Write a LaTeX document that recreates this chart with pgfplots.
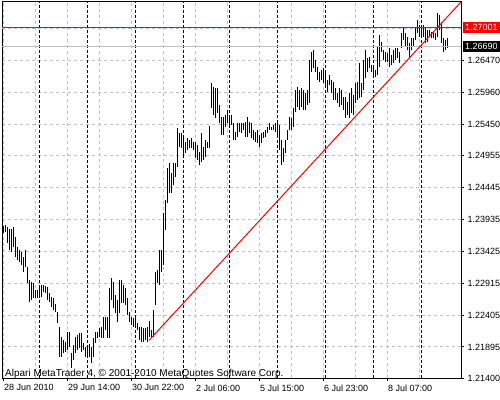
\documentclass[border=0pt]{standalone}
\usepackage{fontspec}
\setmainfont{Liberation Sans}
\usepackage{pgfplots}
\usepackage{pgfplotstable}
\pgfplotsset{compat=1.18}

\definecolor{mtgrid}{RGB}{192,192,192}

% EURUSD H1 bars: bar index, high, low
\pgfplotstableread{
i h l
0 1.2383 1.2372
1 1.2384 1.2373
2 1.2381 1.2356
3 1.2378 1.2345
4 1.2378 1.2341
5 1.2381 1.2349
6 1.2365 1.2333
7 1.2349 1.2329
8 1.2345 1.2325
9 1.2341 1.2321
10 1.2333 1.2309
11 1.2345 1.2317
12 1.2317 1.2292
13 1.2297 1.2262
14 1.2293 1.2265
15 1.2292 1.2268
16 1.2281 1.2268
17 1.2281 1.2268
18 1.2286 1.2268
19 1.2289 1.2270
20 1.2289 1.2278
21 1.2287 1.2276
22 1.2286 1.2265
23 1.2276 1.2262
24 1.2270 1.2254
25 1.2268 1.2249
26 1.2258 1.2246
27 1.2246 1.2228
28 1.2222 1.2174
29 1.2206 1.2174
30 1.2201 1.2180
31 1.2198 1.2182
32 1.2214 1.2185
33 1.2214 1.2190
34 1.2180 1.2156
35 1.2193 1.2169
36 1.2206 1.2180
37 1.2209 1.2185
38 1.2212 1.2188
39 1.2212 1.2182
40 1.2196 1.2185
41 1.2190 1.2174
42 1.2188 1.2172
43 1.2195 1.2174
44 1.2190 1.2164
45 1.2204 1.2174
46 1.2214 1.2196
47 1.2214 1.2204
48 1.2220 1.2206
49 1.2222 1.2204
50 1.2238 1.2204
51 1.2238 1.2217
52 1.2238 1.2204
53 1.2284 1.2204
54 1.2300 1.2265
55 1.2293 1.2252
56 1.2273 1.2244
57 1.2265 1.2230
58 1.2297 1.2244
59 1.2297 1.2260
60 1.2289 1.2260
61 1.2284 1.2257
62 1.2268 1.2241
63 1.2246 1.2230
64 1.2238 1.2225
65 1.2236 1.2222
66 1.2236 1.2220
67 1.2228 1.2217
68 1.2222 1.2201
69 1.2222 1.2198
70 1.2220 1.2198
71 1.2220 1.2200
72 1.2222 1.2198
73 1.2231 1.2206
74 1.2217 1.2206
75 1.2249 1.2206
76 1.2309 1.2257
77 1.2313 1.2292
78 1.2345 1.2289
79 1.2345 1.2309
80 1.2403 1.2321
81 1.2424 1.2376
82 1.2475 1.2419
83 1.2483 1.2435
84 1.2467 1.2435
85 1.2483 1.2448
86 1.2483 1.2461
87 1.2539 1.2477
88 1.2531 1.2509
89 1.2531 1.2507
90 1.2528 1.2496
91 1.2517 1.2499
92 1.2523 1.2504
93 1.2520 1.2507
94 1.2523 1.2507
95 1.2517 1.2504
96 1.2517 1.2491
97 1.2512 1.2488
98 1.2501 1.2480
99 1.2531 1.2485
100 1.2509 1.2488
101 1.2520 1.2493
102 1.2517 1.2507
103 1.2542 1.2507
104 1.2611 1.2571
105 1.2604 1.2560
106 1.2603 1.2555
107 1.2603 1.2563
108 1.2576 1.2547
109 1.2557 1.2528
110 1.2557 1.2528
111 1.2560 1.2541
112 1.2568 1.2547
113 1.2560 1.2541
114 1.2560 1.2544
115 1.2547 1.2520
116 1.2533 1.2520
117 1.2547 1.2525
118 1.2547 1.2533
119 1.2547 1.2531
120 1.2547 1.2536
121 1.2549 1.2525
122 1.2557 1.2525
123 1.2549 1.2531
124 1.2547 1.2523
125 1.2536 1.2520
126 1.2533 1.2517
127 1.2536 1.2515
128 1.2528 1.2509
129 1.2531 1.2515
130 1.2533 1.2523
131 1.2536 1.2525
132 1.2541 1.2531
133 1.2547 1.2536
134 1.2541 1.2536
135 1.2544 1.2536
136 1.2547 1.2533
137 1.2549 1.2525
138 1.2544 1.2504
139 1.2520 1.2480
140 1.2507 1.2485
141 1.2520 1.2499
142 1.2536 1.2520
143 1.2557 1.2536
144 1.2555 1.2536
145 1.2571 1.2541
146 1.2600 1.2564
147 1.2604 1.2572
148 1.2600 1.2568
149 1.2603 1.2572
150 1.2600 1.2568
151 1.2595 1.2568
152 1.2600 1.2576
153 1.2647 1.2579
154 1.2660 1.2628
155 1.2663 1.2635
156 1.2647 1.2628
157 1.2636 1.2615
158 1.2628 1.2612
159 1.2631 1.2615
160 1.2635 1.2611
161 1.2628 1.2604
162 1.2615 1.2596
163 1.2623 1.2607
164 1.2615 1.2595
165 1.2612 1.2584
166 1.2603 1.2584
167 1.2595 1.2579
168 1.2603 1.2572
169 1.2600 1.2576
170 1.2588 1.2568
171 1.2588 1.2555
172 1.2580 1.2560
173 1.2595 1.2555
174 1.2603 1.2563
175 1.2592 1.2560
176 1.2611 1.2579
177 1.2612 1.2584
178 1.2643 1.2587
179 1.2611 1.2588
180 1.2647 1.2600
181 1.2663 1.2619
182 1.2651 1.2628
183 1.2652 1.2635
184 1.2639 1.2628
185 1.2639 1.2620
186 1.2631 1.2620
187 1.2668 1.2623
188 1.2687 1.2636
189 1.2676 1.2660
190 1.2663 1.2647
191 1.2660 1.2644
192 1.2659 1.2644
193 1.2666 1.2636
194 1.2655 1.2639
195 1.2663 1.2643
196 1.2666 1.2647
197 1.2666 1.2651
198 1.2660 1.2643
199 1.2690 1.2666
200 1.2700 1.2679
201 1.2690 1.2668
202 1.2684 1.2663
203 1.2674 1.2652
204 1.2682 1.2663
205 1.2682 1.2668
206 1.2698 1.2679
207 1.2711 1.2690
208 1.2703 1.2684
209 1.2703 1.2684
210 1.2703 1.2684
211 1.2700 1.2674
212 1.2695 1.2676
213 1.2695 1.2684
214 1.2692 1.2682
215 1.2692 1.2682
216 1.2690 1.2679
217 1.2722 1.2684
218 1.2719 1.2695
219 1.2708 1.2674
220 1.2682 1.2660
221 1.2679 1.2663
222 1.2682 1.2666
}\bars

\begin{document}
\begin{tikzpicture}[font=\fontsize{9bp}{11bp}\selectfont]
\useasboundingbox (-2bp,-22bp) rectangle (498bp,378bp);
\begin{axis}[
  at={(0,0)}, anchor=south west,
  scale only axis,
  width=459bp, height=376bp,
  xmin=-0.5, xmax=229,
  ymin=1.2140, ymax=1.2740,
  axis line style={black, line width=1bp},
  xtick={0,32,...,192},
  xticklabels={28 Jun 2010,29 Jun 14:00,30 Jun 22:00,2 Jul 06:00,5 Jul 15:00,6 Jul 23:00,8 Jul 07:00},
  extra x ticks={16,48,...,224},
  extra x tick labels={},
  extra x tick style={major tick length=0pt, xmajorgrids=true},
  ytick={1.21400,1.21895,1.22405,1.22915,1.23425,1.23935,1.24445,1.24955,1.25450,1.25960,1.26470},
  yticklabels={1.21400,1.21895,1.22405,1.22915,1.23425,1.23935,1.24445,1.24955,1.25450,1.25960,1.26470},
  extra y ticks={1.26980},
  extra y tick labels={},
  extra y tick style={major tick length=0pt, ymajorgrids=true},
  xtick pos=bottom, ytick pos=right,
  yticklabel pos=right,
  tick align=outside,
  major tick length=3bp,
  tick style={black, line width=1bp},
  xmajorgrids, ymajorgrids,
  major grid style={mtgrid, line width=1bp, dash pattern=on 3bp off 3bp},
  xticklabel style={anchor=north west, inner xsep=1bp},
  yticklabel style={anchor=west},
  /pgf/number format/assume math mode=true,
  clip mode=individual,
]

% day separators
\pgfplotsinvokeforeach{18,42,66,90,113,137,161,185,209}{
  \draw[black, line width=1bp, dash pattern=on 3bp off 2bp]
    (axis cs:#1,1.2140) -- (axis cs:#1,1.2740);
}

% high-low bars
\addplot[draw=none, mark=none, forget plot,
  error bars/.cd, y dir=plus, y explicit, error mark=none,
  error bar style={draw=black, line width=1bp, solid}]
  table[x=i, y=l, y error expr=\thisrow{h}-\thisrow{l}] {\bars};

% bid line
\addplot[mtgrid, line width=1bp, forget plot]
  coordinates {(-0.5,1.26690) (229,1.26690)};
% horizontal level
\addplot[red, line width=1bp, forget plot]
  coordinates {(-0.5,1.27001) (229,1.27001)};
% trend line
\addplot[red, line width=1bp, forget plot]
  coordinates {(73,1.2200) (229,1.2740)};

\node[fill=red, text=white, anchor=west, inner sep=0pt,
      minimum height=11bp, minimum width=37.5bp, xshift=1.5bp]
  at (axis cs:229,1.27001) {1.27001};
\node[fill=black, text=white, anchor=west, inner sep=0pt,
      minimum height=11bp, minimum width=37.5bp, xshift=1.5bp]
  at (axis cs:229,1.26690) {1.26690};

\node[anchor=base west, inner sep=0pt, xshift=3bp, yshift=1.5bp,
      font=\fontsize{10bp}{12bp}\selectfont]
  at (rel axis cs:0,0) {Alpari MetaTrader 4, © 2001-2010 MetaQuotes Software Corp.};

\end{axis}
\end{tikzpicture}
\end{document}
